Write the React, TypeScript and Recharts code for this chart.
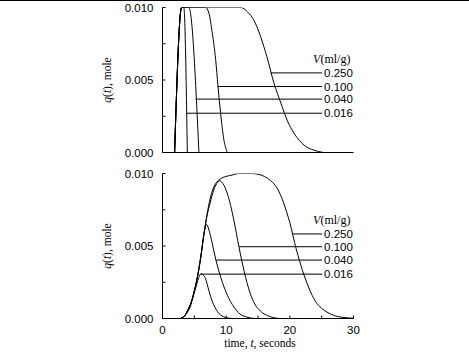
import React from 'react';
import { LineChart, Line, XAxis, YAxis, ReferenceLine } from 'recharts';

// V (ml/g) of each curve, top to bottom in the legend
const volumes = ['0.250', '0.100', '0.040', '0.016'];

// upper panel: q(t) in mole against time in seconds
const top250T = [1.9, 3.0, 12.3, 13.34, 14.38, 15.4, 16.4, 17.5, 18.6, 19.6, 20.7, 22.25, 23.8, 25.3];
const top250Q = [0, 0.01, 0.01, 0.0097, 0.0091, 0.008, 0.0066, 0.0048, 0.0034, 0.0022, 0.0013, 0.0005, 0.00016, 0];
const top100T = [1.9, 3.0, 6.77, 7.29, 7.83, 8.35, 8.71, 9.13, 9.65, 10.2];
const top100Q = [0, 0.01, 0.01, 0.0096, 0.0082, 0.0064, 0.0046, 0.0027, 0.00085, 0];
const top040T = [1.9, 3.0, 4.14, 5.72];
const top040Q = [0, 0.01, 0.01, 0];
const top016T = [1.9, 3.0, 3.35, 3.9];
const top016Q = [0, 0.01, 0.01, 0];

// lower panel
const bot250T = [2.8, 3.5, 4, 4.5, 5, 5.5, 6, 6.5, 7, 7.5, 8, 8.5, 9, 10, 11, 12, 13, 14, 15, 16, 17, 18, 19, 20, 21, 22, 23, 24, 25, 26, 27, 28, 29, 30];
const bot250Q = [0, 0.0002, 0.0006, 0.0011, 0.0019, 0.0029, 0.0042, 0.0058, 0.0072, 0.0083, 0.009, 0.0094, 0.0096, 0.0098, 0.0099, 0.01, 0.01, 0.01, 0.00995, 0.0098, 0.0095, 0.009, 0.008, 0.0066, 0.0048, 0.0033, 0.0021, 0.0012, 0.0007, 0.0004, 0.0002, 0.0001, 0.00004, 0.00002];
const bot100T = [2.8, 3.5, 4, 4.5, 5, 5.5, 6, 6.5, 7, 7.5, 8, 8.5, 9, 9.5, 10.2, 11.2, 12, 12.8, 13.8, 14.5, 15.4, 16.5, 17.5, 18.5];
const bot100Q = [0, 0.0002, 0.0006, 0.0011, 0.0019, 0.0029, 0.0042, 0.0058, 0.0071, 0.008, 0.0088, 0.0093, 0.0095, 0.0093, 0.0086, 0.0068, 0.00495, 0.0033, 0.0017, 0.001, 0.0005, 0.0002, 0.00005, 0];
const bot040T = [2.8, 3.5, 4, 4.5, 5, 5.5, 6, 6.5, 6.9, 7.3, 7.8, 8.35, 8.9, 9.4, 10.2, 11.2, 12.2, 13.2, 14.5];
const bot040Q = [0, 0.0002, 0.0006, 0.0011, 0.0019, 0.0029, 0.0042, 0.0058, 0.0065, 0.0061, 0.0052, 0.0041, 0.0032, 0.0025, 0.0016, 0.0008, 0.0003, 0.0001, 0];
const bot016T = [2.9, 3.5, 4, 4.4, 4.8, 5.15, 5.67, 6.1, 6.4, 6.77, 7.3, 7.8, 8.6, 9.6, 10.9];
const bot016Q = [0, 0.0002, 0.0005, 0.00085, 0.0015, 0.002, 0.0028, 0.0031, 0.003, 0.00274, 0.0019, 0.0012, 0.0005, 0.00012, 0];

// where the legend leader lines leave each curve
const topTagT = [17.0, 8.66, 5.15, 3.73];
const topTagQ = [0.00549, 0.00455, 0.00368, 0.00271];
const botTagT = [20.4, 12.0, 8.35, 5.98];
const botTagQ = [0.00583, 0.00495, 0.00403, 0.00306];
const tagEndT = 25.07;

const xTicks = [0, 5, 10, 15, 20, 25, 30];
const yTicks = [0, 0.0025, 0.005, 0.0075, 0.01];

const SANS = '"Liberation Sans", Arial, sans-serif';
const SERIF = '"Liberation Serif", "Times New Roman", serif';

const toPoints = (t: number[], q: number[]) => t.map((v, i) => ({ t: v, q: q[i] }));

const topCurves = [
  toPoints(top250T, top250Q),
  toPoints(top100T, top100Q),
  toPoints(top040T, top040Q),
  toPoints(top016T, top016Q),
];
const botCurves = [
  toPoints(bot250T, bot250Q),
  toPoints(bot100T, bot100Q),
  toPoints(bot040T, bot040Q),
  toPoints(bot016T, bot016Q),
];

const yFormat = (v: number) => (Math.round(v * 10000) % 50 === 0 ? v.toFixed(3) : '');
const xFormat = (v: number) => (v % 10 === 0 ? String(v) : '');

function YTitle(props: any) {
  const vb = props.viewBox;
  const cx = 107;
  const cy = vb.y + vb.height / 2;
  return (
    <text
      x={cx}
      y={cy}
      transform={`rotate(-90, ${cx}, ${cy})`}
      textAnchor="middle"
      dominantBaseline="central"
      fontFamily={SERIF}
      fontSize={11.5}
      fill="#000"
    >
      <tspan fontStyle="italic">q</tspan>(<tspan fontStyle="italic">t</tspan>), mole
    </text>
  );
}

function XTitle(props: any) {
  const vb = props.viewBox;
  return (
    <text
      x={vb.x + vb.width / 2 + 2}
      y={vb.y + 28}
      textAnchor="middle"
      fontFamily={SERIF}
      fontSize={11.5}
      fill="#000"
    >
      time, <tspan fontStyle="italic">t</tspan>, seconds
    </text>
  );
}

function tagLabel(text: string, withHeader: boolean) {
  return (props: any) => {
    const vb = props.viewBox;
    const x = vb.x + vb.width + 2;
    const y = vb.y;
    return (
      <g>
        {withHeader && (
          <text x={x - 11} y={y - 14} dominantBaseline="central" fontFamily={SERIF} fontSize={12} fill="#000">
            <tspan fontStyle="italic">V</tspan>(ml/g)
          </text>
        )}
        <text x={x} y={y} dominantBaseline="central" fontFamily={SANS} fontSize={11.5} fill="#000">
          {text}
        </text>
      </g>
    );
  };
}

function Panel({ curves, tagT, tagQ, bottom }: { curves: { t: number; q: number }[][]; tagT: number[]; tagQ: number[]; bottom: boolean }) {
  const height = bottom ? 187 : 165;
  return (
    <LineChart
      width={469}
      height={height}
      margin={{ top: bottom ? 8.5 : 7.5, right: 115.5, bottom: bottom ? 0 : 2.5, left: 0 }}
    >
      <XAxis
        type="number"
        dataKey="t"
        domain={[0, 30]}
        ticks={xTicks}
        tickFormatter={xFormat}
        height={bottom ? 33.5 : 10}
        tick={bottom ? { fill: '#000', fontFamily: SANS, fontSize: 11.5 } : false}
        tickSize={-3}
        tickMargin={10}
        axisLine={{ stroke: '#000' }}
        tickLine={{ stroke: '#000' }}
        label={bottom ? (p: any) => <XTitle {...p} /> : undefined}
        allowDataOverflow
      />
      <YAxis
        type="number"
        domain={[0, 0.01]}
        ticks={yTicks}
        tickFormatter={yFormat}
        width={162.5}
        tick={{ fill: '#000', fontFamily: SANS, fontSize: 11.5 }}
        tickSize={-3}
        tickMargin={12}
        axisLine={{ stroke: '#000' }}
        tickLine={{ stroke: '#000' }}
        label={(p: any) => <YTitle {...p} />}
        allowDataOverflow
      />
      {curves.map((c, i) => (
        <Line
          key={i}
          data={c}
          dataKey="q"
          type="monotone"
          stroke="#000"
          strokeWidth={1}
          dot={false}
          activeDot={false}
          isAnimationActive={false}
        />
      ))}
      {volumes.map((v, i) => (
        <ReferenceLine
          key={v}
          segment={[
            { x: tagT[i], y: tagQ[i] },
            { x: tagEndT, y: tagQ[i] },
          ]}
          stroke="#000"
          strokeWidth={1}
          label={tagLabel(v, i === 0)}
        />
      ))}
    </LineChart>
  );
}

export default function App() {
  return (
    <div style={{ position: 'absolute', left: 0, top: 0, width: 469, height: 352, background: '#fff' }}>
      <div style={{ position: 'absolute', left: 0, top: 0, width: 469, height: 1, background: '#000' }} />
      <div style={{ position: 'absolute', left: 0, top: 0 }}>
        <Panel curves={topCurves} tagT={topTagT} tagQ={topTagQ} bottom={false} />
      </div>
      <div style={{ position: 'absolute', left: 0, top: 165 }}>
        <Panel curves={botCurves} tagT={botTagT} tagQ={botTagQ} bottom={true} />
      </div>
    </div>
  );
}
